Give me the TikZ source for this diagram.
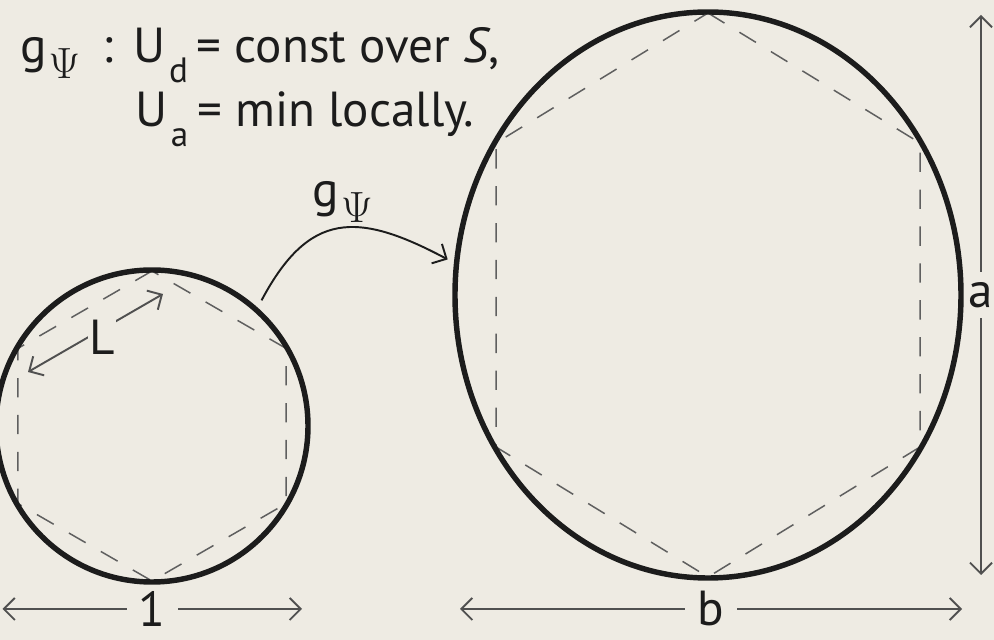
\documentclass[tikz,border=0pt]{standalone}
\usepackage{fontspec}
\setmainfont{PT Sans}
\usepackage{tikz}
\usetikzlibrary{shapes.geometric,arrows.meta,positioning,calc}

\definecolor{paper}{RGB}{238,235,227}
\definecolor{ink}{RGB}{28,28,28}
\definecolor{dimgrey}{RGB}{80,80,80}
\definecolor{hexgrey}{RGB}{95,95,95}

\newcommand{\lowsub}[1]{\hspace{2pt}\raisebox{-11pt}{\fontsize{20}{20}\selectfont #1}\hspace{5pt}}
\newcommand{\psisub}{\hspace{1pt}\raisebox{-9pt}{\fontsize{23}{23}\selectfont$\Psi$}}

\begin{document}
\begin{tikzpicture}[
font=\fontsize{28}{33}\selectfont,
text=ink,
shell/.style={draw=ink, line width=3.1pt, inner sep=0pt, outer sep=0pt},
hexline/.style={hexgrey, line width=0.85pt, dash pattern=on 11pt off 10pt},
maparr/.style={-{Straight Barb[length=2.2mm, width=4.4mm]}, ink, line width=1.1pt},
dimarr/.style={{Straight Barb[length=2.2mm, width=4.4mm]}-{Straight Barb[length=2.2mm, width=4.4mm]}, dimgrey, line width=1.1pt},
dimlabel/.style={fill=paper, text=ink, inner xsep=7pt, inner ysep=0pt},
caption/.style={anchor=base west, inner sep=0pt}
]

% Canvas
\useasboundingbox (0,0) rectangle (19.88,-12.8);
\fill[paper] (0,0) rectangle (19.88,-12.8);

% Centres of the two shapes
\coordinate (c1) at (3.04,-8.52);
\coordinate (c2) at (14.16,-5.9);

% Inscribed hexagons
\draw[hexline] ($(c1)+(90:3.1)$) \foreach \a in {150,210,270,330,390} {-- ($(c1)+(\a:3.1)$)} -- cycle;
\draw[hexline] ($(c2)+(0,5.64)$) -- ($(c2)+(4.24,3.04)$) -- ($(c2)+(4.24,-3.04)$)
-- ($(c2)+(0,-5.64)$) -- ($(c2)+(-4.24,-3.04)$) -- ($(c2)+(-4.24,3.04)$) -- cycle;

% Unit circle and stretched ellipse
\node[shell, circle, minimum size=6.24cm] (unit) at (c1) {};
\node[shell, ellipse, minimum width=10.12cm, minimum height=11.32cm] (stretched) at (c2) {};

% Rule text
\node[caption] (rule1) at (0.4,-1.26)
{g\psisub\hspace{0.45em}:\hspace{0.42em}U\lowsub{d}= const over \textit{S},};
\node[caption] (rule2) at (2.7,-2.54) {U\lowsub{a}= min locally.};

% Mapping arrow
\draw[maparr, shorten <=0.22cm, shorten >=0.2cm] (unit.48) to[out=62, in=152, looseness=1.4]
node[above, pos=0.52] (maplabel) {g\psisub} (stretched.173);

% Edge length L
\coordinate (Lfrom) at (0.56,-7.44);
\coordinate (Lto) at (3.26,-5.88);
\draw[dimarr] (Lfrom) -- (Lto);
\node[fill=paper, inner sep=1pt] (lenL) at (2.04,-6.75) {L};

% Dimensions
\coordinate (oneL) at (0.05,-12.18);
\coordinate (oneR) at (6.04,-12.18);
\draw[dimarr] (oneL) -- node[dimlabel] (lbl1) {1} (oneR);

\coordinate (bL) at (9.2,-12.18);
\coordinate (bR) at (19.24,-12.18);
\draw[dimarr] (bL) -- node[dimlabel] (lblb) {b} (bR);

\coordinate (aT) at (19.62,-0.3);
\coordinate (aB) at (19.62,-11.5);
\draw[dimarr] (aT) -- node[dimlabel, inner xsep=0pt, inner ysep=6pt] (lbla) {a} (aB);

\end{tikzpicture}
\end{document}
